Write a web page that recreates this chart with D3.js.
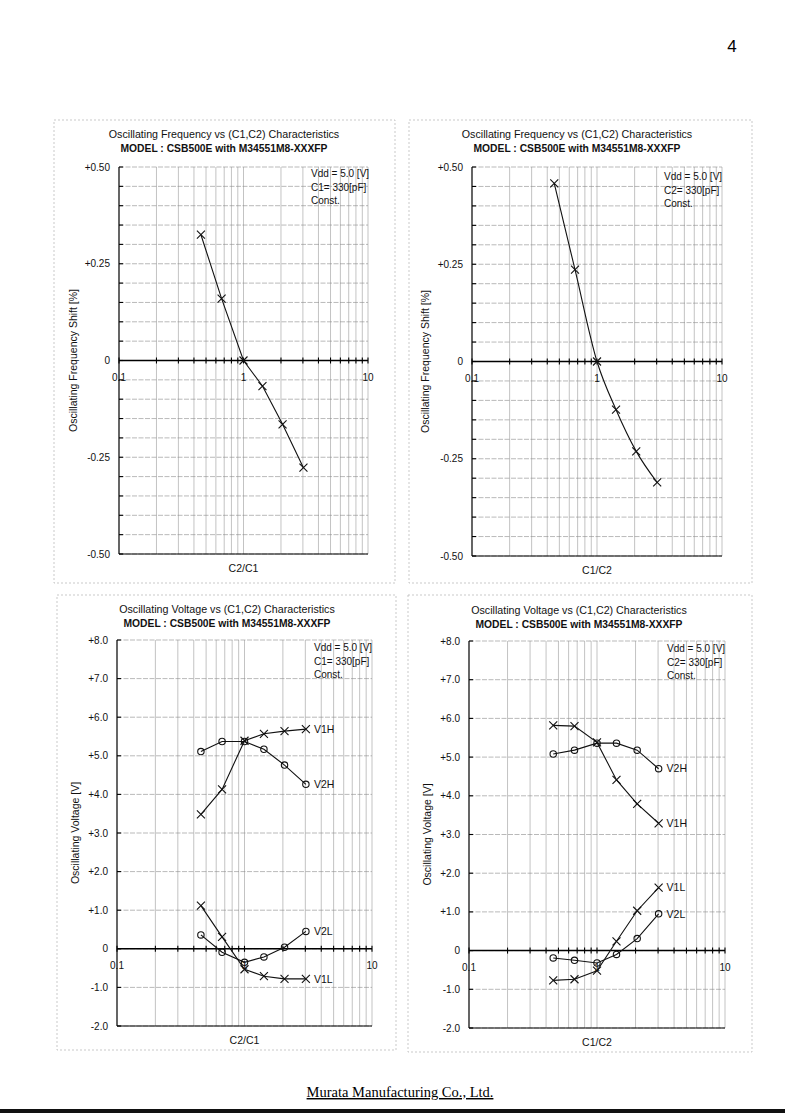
<!DOCTYPE html>
<meta charset="utf-8">
<style>
body { margin: 0; background: #fff; }
svg { font-family: "Liberation Sans", Arial, Helvetica, sans-serif; }
.box { fill: none; stroke: #bbb; stroke-width: 0.8; stroke-dasharray: 2,2; }
.vgrid { stroke: #9a9a9a; stroke-width: 0.6; }
.hgrid { stroke: #8a8a8a; stroke-width: 0.6; stroke-dasharray: 5,1.5; }
.axis { stroke: #000; stroke-width: 1.1; fill: none; }
.zero { stroke: #000; stroke-width: 1.5; }
.curve { fill: none; stroke: #111; stroke-width: 1.1; }
.mark { fill: none; stroke: #111; stroke-width: 1.1; }
.tick { font-size: 10px; fill: #111; }
.atitle { font-size: 10.5px; fill: #111; }
.title { font-size: 10.7px; fill: #111; text-anchor: middle; }
.model { font-size: 10.3px; font-weight: bold; fill: #111; text-anchor: middle; }
.note { font-size: 10px; fill: #111; }
.lab { font-size: 10.5px; fill: #111; }
</style>
<div id="page"></div>
<script src="https://d3js.org/d3.v7.min.js"></script>
<script>
// capacitance ratio on the x axis (150, 220, 330, 470, 680, 1000 pF over 330 pF)
var ratio = [0.455, 0.667, 1.0, 1.42, 2.06, 3.03];

// frequency shift [%]
var freqC2C1 = [0.325, 0.16, 0, -0.066, -0.165, -0.277];
var freqC1C2 = [0.458, 0.236, 0, -0.124, -0.231, -0.311];

// oscillating voltage [V], C1 = 330pF const (x = C2/C1)
var v1hA = [3.48, 4.13, 5.39, 5.57, 5.64, 5.69];
var v2hA = [5.11, 5.37, 5.37, 5.17, 4.76, 4.26];
var v1lA = [1.12, 0.31, -0.53, -0.71, -0.78, -0.78];
var v2lA = [0.36, -0.09, -0.35, -0.21, 0.04, 0.45];

// oscillating voltage [V], C2 = 330pF const (x = C1/C2)
var v1hB = [5.82, 5.80, 5.38, 4.41, 3.79, 3.29];
var v2hB = [5.08, 5.18, 5.36, 5.36, 5.18, 4.70];
var v1lB = [-0.77, -0.74, -0.52, 0.24, 1.03, 1.63];
var v2lB = [-0.19, -0.25, -0.32, -0.10, 0.31, 0.95];

var xTicks = [0.1, 1, 10];
var xTickLabels = ["0.1", "1", "10"];
var freqTicks = [0.5, 0.25, 0, -0.25, -0.5];
var freqTickLabels = ["+0.50", "+0.25", "0", "-0.25", "-0.50"];
var voltTicks = [8, 7, 6, 5, 4, 3, 2, 1, 0, -1, -2];
var voltTickLabels = ["+8.0", "+7.0", "+6.0", "+5.0", "+4.0", "+3.0", "+2.0", "+1.0", "0", "-1.0", "-2.0"];

var W = 785, H = 1116;
var svg = d3.select("#page").append("svg").attr("width", W).attr("height", H);

svg.append("text").attr("x", 732).attr("y", 52).attr("font-size", 17).attr("text-anchor", "middle").text("4");

function zip(ys) { return ratio.map(function(r, i) { return [r, ys[i]]; }); }

function panel(p) {
  var g = svg.append("g");
  g.append("rect").attr("class", "box")
    .attr("x", p.box[0]).attr("y", p.box[1]).attr("width", p.box[2] - p.box[0]).attr("height", p.box[3] - p.box[1]);

  var x = d3.scaleLog().domain([0.1, 10]).range([p.l, p.r]);
  var y = d3.scaleLinear().domain(p.yDomain).range([p.b, p.t]);
  var xs = x.ticks();
  var ys = y.ticks(p.yGrid);

  g.selectAll(".vgrid").data(xs).enter().append("line").attr("class", "vgrid")
    .attr("x1", x).attr("x2", x).attr("y1", p.t).attr("y2", p.b);
  g.selectAll(".hgrid").data(ys).enter().append("line").attr("class", "hgrid")
    .attr("x1", p.l).attr("x2", p.r).attr("y1", y).attr("y2", y);

  // titles
  g.append("text").attr("class", "title").attr("x", p.cx).attr("y", p.ty).text(p.title);
  g.append("text").attr("class", "model").attr("x", p.cx).attr("y", p.ty + 14).text("MODEL : CSB500E with M34551M8-XXXFP");

  // y tick labels
  g.selectAll(".ylab").data(p.yTicks).enter().append("text").attr("class", "tick")
    .attr("x", p.l - 9).attr("y", y).attr("dy", "0.35em").attr("text-anchor", "end")
    .text(function(d, i) { return p.yLabels[i]; });

  // x tick labels below zero line
  var y0 = y(0);
  g.selectAll(".xlab").data(xTicks).enter().append("text").attr("class", "tick")
    .attr("x", x).attr("y", y0 + 20).attr("text-anchor", "middle")
    .text(function(d, i) { return xTickLabels[i]; });

  // axes
  g.append("line").attr("class", "axis").attr("x1", p.l).attr("x2", p.l).attr("y1", p.t).attr("y2", p.b);
  g.append("line").attr("class", "axis").attr("x1", p.l).attr("x2", p.r).attr("y1", p.b).attr("y2", p.b).attr("stroke-width", 0.9);
  g.selectAll(".ytk").data(ys).enter().append("line").attr("class", "axis")
    .attr("x1", p.l).attr("x2", p.l + 4).attr("y1", y).attr("y2", y);
  g.append("line").attr("class", "zero").attr("x1", p.l).attr("x2", p.r).attr("y1", y0).attr("y2", y0);
  g.selectAll(".xtk").data(xs).enter().append("line").attr("class", "axis")
    .attr("x1", x).attr("x2", x).attr("y1", y0 - 3).attr("y2", y0 + 3);

  // axis titles
  g.append("text").attr("class", "atitle").attr("text-anchor", "middle")
    .attr("transform", "translate(" + p.ax + "," + ((p.t + p.b) / 2) + ") rotate(-90)")
    .attr("dy", "0.35em").text(p.yTitle);
  g.append("text").attr("class", "atitle").attr("text-anchor", "middle")
    .attr("x", x(1)).attr("y", p.b + 18).text(p.xTitle);

  // condition note
  p.note.forEach(function(s, i) {
    g.append("text").attr("class", "note").attr("x", p.nx).attr("y", p.ny + i * 13.5).text(s);
  });

  // series
  p.series.forEach(function(s) {
    var pts = zip(s.values);
    var line = d3.line().x(function(d) { return x(d[0]); }).y(function(d) { return y(d[1]); })
      .curve(s.smooth ? d3.curveMonotoneX : d3.curveLinear);
    g.append("path").attr("class", "curve").attr("d", line(pts));
    pts.forEach(function(d) {
      var cx = x(d[0]), cy = y(d[1]);
      if (s.marker === "x") {
        g.append("path").attr("class", "mark")
          .attr("d", "M" + (cx - 4) + "," + (cy - 4) + "L" + (cx + 4) + "," + (cy + 4) +
                     "M" + (cx - 4) + "," + (cy + 4) + "L" + (cx + 4) + "," + (cy - 4));
      } else {
        g.append("circle").attr("class", "mark").attr("cx", cx).attr("cy", cy).attr("r", 3.2);
      }
    });
    if (s.name) {
      var last = pts[pts.length - 1];
      g.append("text").attr("class", "lab").attr("x", x(last[0]) + 8).attr("y", y(last[1]))
        .attr("dy", "0.35em").text(s.name);
    }
  });
}

panel({
  box: [54, 120, 395, 583], l: 119, r: 368, t: 167, b: 554, cx: 224, ty: 138, ax: 73,
  yDomain: [-0.5, 0.5], yGrid: 20, yTicks: freqTicks, yLabels: freqTickLabels,
  title: "Oscillating Frequency vs (C1,C2) Characteristics",
  yTitle: "Oscillating Frequency Shift [%]", xTitle: "C2/C1",
  nx: 311, ny: 177, note: ["Vdd = 5.0 [V]", "C1= 330[pF]", "Const."],
  series: [{ values: freqC2C1, marker: "x" }]
});

panel({
  box: [409, 120, 752, 583], l: 472, r: 722, t: 167, b: 556, cx: 577, ty: 138, ax: 425,
  yDomain: [-0.5, 0.5], yGrid: 20, yTicks: freqTicks, yLabels: freqTickLabels,
  title: "Oscillating Frequency vs (C1,C2) Characteristics",
  yTitle: "Oscillating Frequency Shift [%]", xTitle: "C1/C2",
  nx: 664, ny: 180, note: ["Vdd = 5.0 [V]", "C2= 330[pF]", "Const."],
  series: [{ values: freqC1C2, marker: "x", smooth: true }]
});

panel({
  box: [57, 595, 396, 1050], l: 117, r: 372, t: 640, b: 1026, cx: 227, ty: 613, ax: 75,
  yDomain: [-2, 8], yGrid: 10, yTicks: voltTicks, yLabels: voltTickLabels,
  title: "Oscillating Voltage vs (C1,C2) Characteristics",
  yTitle: "Oscillating Voltage [V]", xTitle: "C2/C1",
  nx: 314, ny: 651, note: ["Vdd = 5.0 [V]", "C1= 330[pF]", "Const."],
  series: [
    { values: v1hA, marker: "x", name: "V1H" },
    { values: v2hA, marker: "o", name: "V2H" },
    { values: v1lA, marker: "x", name: "V1L" },
    { values: v2lA, marker: "o", name: "V2L" }
  ]
});

panel({
  box: [408, 595, 752, 1052], l: 469, r: 725, t: 641, b: 1028, cx: 579, ty: 614, ax: 427,
  yDomain: [-2, 8], yGrid: 10, yTicks: voltTicks, yLabels: voltTickLabels,
  title: "Oscillating Voltage vs (C1,C2) Characteristics",
  yTitle: "Oscillating Voltage [V]", xTitle: "C1/C2",
  nx: 667, ny: 652, note: ["Vdd = 5.0 [V]", "C2= 330[pF]", "Const."],
  series: [
    { values: v1hB, marker: "x", name: "V1H" },
    { values: v2hB, marker: "o", name: "V2H" },
    { values: v1lB, marker: "x", name: "V1L" },
    { values: v2lB, marker: "o", name: "V2L" }
  ]
});

// footer
svg.append("text").attr("x", 400).attr("y", 1097).attr("text-anchor", "middle")
  .attr("font-family", "'Liberation Serif', 'Times New Roman', serif").attr("font-size", 14.5)
  .attr("text-decoration", "underline").text("Murata Manufacturing Co., Ltd.");
svg.append("rect").attr("x", 0).attr("y", 1109).attr("width", W).attr("height", 4).attr("fill", "#111");
</script>
